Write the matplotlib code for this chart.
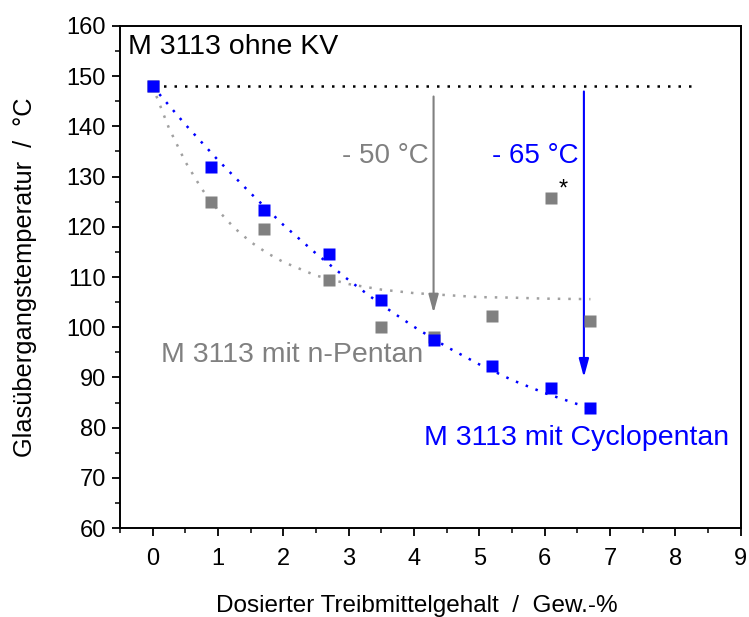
import matplotlib
matplotlib.use('Agg')
import matplotlib.pyplot as plt
import numpy as np
from matplotlib.ticker import MultipleLocator

plt.rcParams['font.family'] = ['Liberation Sans', 'DejaVu Sans']

# Messwerte
gehalt = [0, 0.9, 1.7, 2.7, 3.5, 4.3, 5.2, 6.1, 6.7]
tg_cyclo = [148, 132, 123.3, 114.5, 105.5, 97.5, 92.2, 88.0, 84.0]
tg_pentan = [148, 125, 119.5, 109.5, 100.0, 98.0, 102.2, 125.7, 101.3]

# Trendlinien
fit_cyclo_x = [0, 0.5, 1, 1.5, 2, 2.5, 3, 3.5, 4, 4.5, 5, 5.5, 6, 6.5, 6.7]
fit_cyclo_y = [148, 140.4, 133.3, 126.7, 120.4, 114.7, 109.4, 104.5, 100.1,
               96.1, 92.6, 89.5, 86.9, 84.7, 84.0]
fit_pentan_x = [0, 0.25, 0.5, 0.75, 1, 1.25, 1.5, 1.75, 2, 2.5, 3, 3.5, 4,
                4.5, 5, 5.5, 6, 6.7]
fit_pentan_y = [148, 139.7, 133.0, 127.6, 123.3, 119.8, 117.0, 114.8, 113.0,
                110.3, 108.6, 107.5, 106.8, 106.4, 106.0, 105.9, 105.7, 105.6]

ref_x = [0, 8.3]
ref_y = [148, 148]

blau = '#0000ff'
grau = '#808080'
grau_hell = '#a0a0a0'
punkte = (0, (1, 3.2))

fig = plt.figure(figsize=(7.49, 6.17), dpi=100)
ax = fig.add_axes([0.160, 0.144, 0.829, 0.814])

ax.plot(ref_x, ref_y, linestyle=punkte, color='black', lw=1.8)
ax.plot(fit_pentan_x, fit_pentan_y, linestyle=punkte, color=grau_hell, lw=1.8)
ax.plot(fit_cyclo_x, fit_cyclo_y, linestyle=punkte, color=blau, lw=1.8)
ax.plot(gehalt, tg_pentan, 's', color=grau, ms=9, mec='none', zorder=4)
ax.plot(gehalt, tg_cyclo, 's', color=blau, ms=9, mec='none', zorder=5)

# Pfeile
ax.annotate('', xy=(4.3, 102.3), xytext=(4.3, 146.5),
            arrowprops=dict(arrowstyle='-|>,head_width=0.3,head_length=1.1',
                            color=grau, lw=1.5))
ax.annotate('', xy=(6.6, 89.5), xytext=(6.6, 147.5),
            arrowprops=dict(arrowstyle='-|>,head_width=0.3,head_length=1.1',
                            color=blau, lw=1.5))

ax.text(4.22, 134, '- 50 °C', color=grau, fontsize=20, ha='right', va='center')
ax.text(6.52, 134, '- 65 °C', color=blau, fontsize=20, ha='right', va='center')
ax.text(6.28, 127.5, '*', color='black', fontsize=17, ha='center', va='center')
ax.text(-0.38, 155.8, 'M 3113 ohne KV', color='black', fontsize=20.5, ha='left', va='center')
ax.text(0.13, 94.5, 'M 3113 mit n-Pentan', color=grau, fontsize=20.5, ha='left', va='center')
ax.text(4.15, 78, 'M 3113 mit Cyclopentan', color=blau, fontsize=20.5, ha='left', va='center')

ax.set_xlim(-0.5, 9)
ax.set_ylim(60, 160)
ax.xaxis.set_major_locator(MultipleLocator(1))
ax.xaxis.set_minor_locator(MultipleLocator(0.5))
ax.yaxis.set_major_locator(MultipleLocator(10))
ax.yaxis.set_minor_locator(MultipleLocator(5))
ax.tick_params(which='major', length=6, width=1.3, labelsize=17, direction='out')
ax.tick_params(which='minor', length=3.5, width=1.1, direction='out')
ax.tick_params(axis='x', pad=8)
ax.tick_params(axis='y', pad=4)
for s in ax.spines.values():
    s.set_linewidth(1.4)

ax.set_xlabel('Dosierter Treibmittelgehalt  /  Gew.-%', fontsize=17.5)
ax.set_ylabel('Glasübergangstemperatur  /  °C', fontsize=18.3)
ax.xaxis.set_label_coords(0.479, -0.133)
ax.yaxis.set_label_coords(-0.134, 0.5)

plt.savefig('out.png', dpi=100)
